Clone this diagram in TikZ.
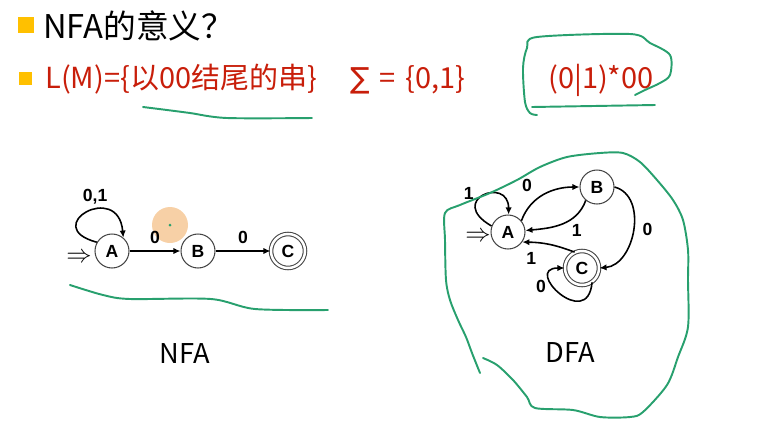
\documentclass[tikz,border=0pt]{standalone}
\usepackage{fontspec}
\usetikzlibrary{arrows.meta,positioning}
\newfontfamily\cjkfont{Noto Sans CJK SC}
\newfontfamily\arialfont{Liberation Sans}
\newfontfamily\symfont{DejaVu Sans}
\definecolor{bulletorange}{RGB}{255,192,0}
\definecolor{slidered}{RGB}{200,30,10}
\definecolor{pengreen}{RGB}{40,160,110}
\definecolor{cursororange}{RGB}{246,200,150}
\definecolor{statering}{RGB}{70,70,70}

\begin{document}
\begin{tikzpicture}[x=0.02cm,y=-0.02cm,
  st/.style={circle,draw=statering,line width=0.6pt,minimum size=0.68cm,
             inner sep=0pt,font=\arialfont\bfseries\fontsize{10}{12}\selectfont},
  acc/.style={st,double=white,double distance=1.4pt},
  tr/.style={-{Latex[length=4pt,width=3.6pt]},line width=0.9pt},
  lbl/.style={font=\arialfont\bfseries\fontsize{10}{12}\selectfont,inner sep=1pt},
  pen/.style={pengreen,line width=1.1pt,line cap=round,line join=round},
  bullet/.style={fill=bulletorange,draw=none},
  txt/.style={anchor=west,inner sep=0pt},
  redtxt/.style={txt,text=slidered,font=\cjkfont\fontsize{16.5}{19}\selectfont}
]
\useasboundingbox (0,0) rectangle (761,437);

\fill[bullet] (18,17) rectangle (34,33);
\node[txt,font=\cjkfont\fontsize{18.6}{21}\selectfont] (title) at (43,26) {NFA的意义？};
\fill[bullet] (19,72) rectangle (32,85);
\node[redtxt] (lang) at (45,79) {L(M)=\{以00结尾的串\}};
\node[redtxt] (sigma) at (350,80) {{\symfont∑}\,\,=\,\,\{0,1\}};
\node[redtxt] (regex) at (548,80) {(0|1)*00};

\draw[pen] plot[smooth] coordinates {(143,107) (167,110) (190,113) (227,118) (312,118)};
\draw[pen] plot[smooth] coordinates {(537,115) (530,113) (525,102) (523,68) (527,48) (537,37) (630,34) (650,43) (670,55) (670,75) (660,83) (645,90) (635,95)};
\draw[pen] (532,107) -- (655,105);

\fill[cursororange,opacity=0.85] (170,225) circle (18);
\fill[pengreen] (170,225) circle (1.5);

\node[st] (A) at (112,251) {A};
\node[st] (B) at (198,251) {B};
\node[acc] (C) at (288,251) {C};
\node[font=\Large,inner sep=0pt] (startN) at (79,258) {$\Rightarrow$};
\draw[tr] (A.150) to[out=165,in=95,out distance=1.2cm,in distance=1.15cm]
    node[lbl,pos=0.6,above=2pt]{0,1} (A.50);
\draw[tr] (A) -- node[lbl,above=3pt]{0} (B);
\draw[tr] (B) -- node[lbl,above=3pt]{0} (C);

\draw[pen] plot[smooth] coordinates {(70,285) (103,295) (130,299) (211,299) (255,309) (328,310)};
\node[font=\cjkfont\fontsize{15.5}{18}\selectfont] (nfa) at (185,354) {NFA};

\node[st] (DA) at (508,232) {A};
\node[st] (DB) at (597,187) {B};
\node[acc] (DC) at (582,268) {C};
\node[font=\Large,inner sep=0pt] (startD) at (478,237) {$\Rightarrow$};
\draw[tr] (DA.160) to[out=150,in=90,out distance=1.05cm,in distance=0.78cm]
    node[lbl,pos=0.35,above left=0pt]{1} (DA.88);
\draw[tr] (DA.40) to[out=70,in=180] node[lbl,pos=0.4,above left=3pt]{0} (DB.west);
\draw[tr] (DB.230) to[out=250,in=5] node[lbl,pos=0.4,below right=1pt]{1} (DA.5);
\draw[tr] (DB.east) to[out=-15,in=5,looseness=1.1] node[lbl,right=4pt]{0} (DC.east);
\draw[tr] (DC.115) to[bend right=10] node[lbl,pos=0.85,below=4pt]{1} (DA.-35);
\draw[tr] (DC.-55) to[out=265,in=180,out distance=1.0cm,in distance=0.85cm]
    node[lbl,pos=0.62,left=3pt]{0} (DC.west);

\draw[pen] plot[smooth] coordinates {(480,373) (472,353) (466,337) (458,320) (450,300) (446,280) (445,240) (445,213) (460,205) (490,193) (517,180) (540,167) (567,157) (600,153) (623,153) (640,162) (657,180) (673,200) (683,220) (688,250) (688,280) (688,327) (678,357) (667,385) (643,412) (630,417) (600,417) (573,410) (535,408) (527,397) (513,380) (497,365) (483,358)};
\node[font=\cjkfont\fontsize{15.5}{18}\selectfont] (dfa) at (570,353) {DFA};
\end{tikzpicture}
\end{document}
